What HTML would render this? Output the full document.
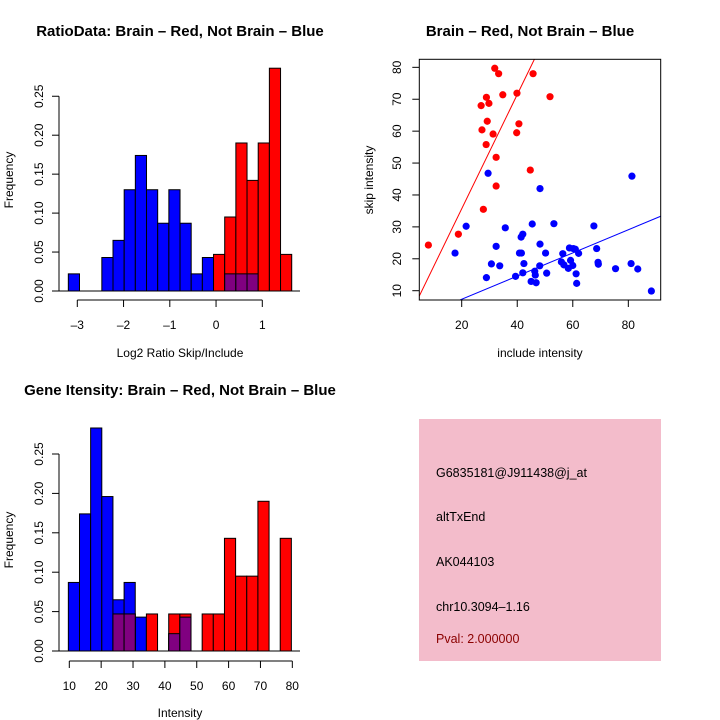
<!DOCTYPE html>
<html><head><meta charset="utf-8"><style>
body{margin:0;background:#fff}
svg{display:block;font-family:"Liberation Sans",sans-serif}
</style></head><body>
<svg id="s" width="720" height="720" viewBox="0 0 720 720">
<rect width="720" height="720" fill="#fff"/>
<text x="180" y="36" text-anchor="middle" font-size="15" font-weight="bold">RatioData: Brain – Red, Not Brain – Blue</text>
<text x="530" y="36" text-anchor="middle" font-size="15" font-weight="bold">Brain – Red, Not Brain – Blue</text>
<text x="180" y="395" text-anchor="middle" font-size="15" font-weight="bold">Gene Itensity: Brain – Red, Not Brain – Blue</text>
<g id="h1"></g>
<g id="h2"></g>
<g id="sc"></g>
<g>
<rect x="419" y="419" width="242" height="242" fill="#f3bccb"/>
<g font-size="12.5">
<text x="436" y="477">G6835181@J911438@j_at</text>
<text x="436" y="521">altTxEnd</text>
<text x="436" y="566">AK044103</text>
<text x="436" y="611">chr10.3094–1.16</text>
<text x="436" y="643" fill="#8b0000">Pval: 2.000000</text>
</g></g>
</svg>
<script>
// Ratio histogram data
const ratioBlue=[0.022,0,0,0.043,0.065,0.13,0.174,0.13,0.087,0.13,0.087,0.022,0.043,0,0.022,0.022,0.022,0,0,0];
const ratioRed=[0,0,0,0,0,0,0,0,0,0,0,0,0,0.047,0.095,0.19,0.142,0.19,0.286,0.047];
const ratioXTicks=[-3,-2,-1,0,1];
const ratioStart=-3.194, ratioWidth=0.2415;
// Intensity histogram data
const intBlue=[0.087,0.174,0.283,0.196,0.065,0.087,0.043,0,0,0.022,0.043,0,0,0,0,0,0,0,0,0];
const intRed=[0,0,0,0,0.047,0.047,0,0.047,0,0.047,0.047,0,0.047,0.047,0.143,0.095,0.095,0.19,0,0.143];
const intXTicks=[10,20,30,40,50,60,70,80];
const intStart=9.7, intWidth=3.5;
const freqTicks=[0,0.05,0.10,0.15,0.20,0.25];
const freqLabels=["0.00","0.05","0.10","0.15","0.20","0.25"];
// Scatter data
const redX=[8.0,18.8,27.8,28.8,27.3,27.0,28.9,29.2,29.8,31.3,31.9,33.3,32.4,32.4,34.8,39.9,39.8,40.6,44.7,45.7,51.8];
const redY=[24.3,27.7,35.5,55.8,60.4,68.0,70.6,63.1,68.7,59.1,79.7,78.0,51.8,42.8,71.4,71.9,59.5,62.3,47.8,78.0,70.8];
const blueX=[17.6,21.6,29.5,28.9,30.7,32.4,33.7,35.7,39.4,40.8,41.5,41.4,42.0,42.0,42.4,45.0,45.4,46.3,46.5,46.8,48.1,48.2,48.2,50.2,50.6,53.2,55.9,56.4,56.8,58.4,58.8,59.2,60.0,60.2,60.9,61.2,61.4,62.1,67.6,68.6,69.1,69.2,75.4,81.0,81.3,83.4,88.3];
const blueY=[21.8,30.2,46.8,14.1,18.4,23.9,17.8,29.7,14.5,21.8,21.8,26.8,27.7,15.6,18.5,12.9,30.9,16.1,14.9,12.5,17.8,24.6,42.0,21.8,15.5,31.0,19.0,21.6,18.1,17.0,23.4,19.5,17.9,23.2,23.0,15.3,12.3,21.7,30.3,23.2,18.9,18.3,16.9,18.5,45.9,16.8,9.9];
const redSlope=1.79, redIntercept=-0.13, blueSlope=0.363, blueIntercept=0.06;
const scXTicks=[20,40,60,80], scYTicks=[10,20,30,40,50,60,70,80];

const NS="http://www.w3.org/2000/svg";
function mk(p,t,a,txt){const e=document.createElementNS(NS,t);for(const k in a)e.setAttribute(k,a[k]);if(txt!==undefined)e.textContent=txt;p.appendChild(e);return e;}

function hist(g,blue,red,start,width,xTicks,xs,ys,xAxisY,xlabel,ylabelY,xlabelY){
  const n=blue.length;
  for(let i=0;i<n;i++){
    const x0=xs(start+i*width),x1=xs(start+(i+1)*width);
    if(blue[i]>0){const r=mk(g,'rect',{x:x0,y:ys(blue[i]),width:x1-x0,height:ys(0)-ys(blue[i]),fill:'#0000ff',stroke:'#000','stroke-width':1});
      
      }
  }
  for(let i=0;i<n;i++){
    const x0=xs(start+i*width),x1=xs(start+(i+1)*width);
    if(red[i]>0){const r=mk(g,'rect',{x:x0,y:ys(red[i]),width:x1-x0,height:ys(0)-ys(red[i]),fill:'#ff0000',stroke:'#000','stroke-width':1});
      
      }
    const m=Math.min(blue[i],red[i]);
    if(m>0){const r=mk(g,'rect',{x:x0,y:ys(m),width:x1-x0,height:ys(0)-ys(m),fill:'#800080',stroke:'#000','stroke-width':1});
      
      }
  }
  mk(g,'line',{x1:59,x2:300,y1:ys(0),y2:ys(0),stroke:'#000'});
  mk(g,'line',{x1:59,x2:59,y1:ys(0),y2:ys(0.25),stroke:'#000'});
  freqTicks.forEach((v,i)=>{
    mk(g,'line',{x1:52,x2:59,y1:ys(v),y2:ys(v),stroke:'#000'});
    const t=mk(g,'text',{x:43,y:ys(v),'font-size':12,'text-anchor':'middle',transform:`rotate(-90 43 ${ys(v)})`},freqLabels[i]);
    
    
  });
  mk(g,'line',{x1:xs(xTicks[0]),x2:xs(xTicks[xTicks.length-1]),y1:xAxisY,y2:xAxisY,stroke:'#000'});
  xTicks.forEach(v=>{
    mk(g,'line',{x1:xs(v),x2:xs(v),y1:xAxisY,y2:xAxisY+7,stroke:'#000'});
    const t=mk(g,'text',{x:xs(v),y:xAxisY+29,'font-size':12,'text-anchor':'middle'},v<0?'–'+(-v):String(v));
    
    
  });
  const yl=mk(g,'text',{x:13,y:ylabelY,'font-size':12,'text-anchor':'middle',transform:`rotate(-90 13 ${ylabelY})`},'Frequency');
  
  
  const xl=mk(g,'text',{x:180,y:xlabelY,'font-size':12,'text-anchor':'middle'},xlabel);
  
  
}
hist(document.getElementById('h1'),ratioBlue,ratioRed,ratioStart,ratioWidth,ratioXTicks,
  v=>77.3+(v+3)*46.25, v=>291-v*779, 300,'Log2 Ratio Skip/Include',180,357);
hist(document.getElementById('h2'),intBlue,intRed,intStart,intWidth,intXTicks,
  v=>69.3+(v-10)*3.186, v=>651-v*788, 661,'Intensity',540,717);

// scatter
const sc=document.getElementById('sc');
const sx=v=>461.7+(v-20)*2.777, sy=v=>290.7-(v-10)*3.191;
const L=419.3,R=660.7,T=59.3,B=300;
const cp=mk(sc,'clipPath',{id:'cp'});mk(cp,'rect',{x:L,y:T,width:R-L,height:B-T});
const lg=mk(sc,'g',{'clip-path':'url(#cp)'});
const xa=(L-461.7)/2.777+20, xb=(R-461.7)/2.777+20;
const rl=mk(lg,'line',{x1:sx(xa),y1:sy(redSlope*xa+redIntercept),x2:sx(xb),y2:sy(redSlope*xb+redIntercept),stroke:'#ff0000'});


const bl=mk(lg,'line',{x1:sx(xa),y1:sy(blueSlope*xa+blueIntercept),x2:sx(xb),y2:sy(blueSlope*xb+blueIntercept),stroke:'#0000ff'});


redX.forEach((x,i)=>{const c=mk(sc,'circle',{cx:sx(x),cy:sy(redY[i]),r:3.6,fill:'#ff0000'});
  
  });
blueX.forEach((x,i)=>{const c=mk(sc,'circle',{cx:sx(x),cy:sy(blueY[i]),r:3.6,fill:'#0000ff'});
  
  });
mk(sc,'rect',{x:L,y:T,width:R-L,height:B-T,fill:'none',stroke:'#000'});
scXTicks.forEach(v=>{mk(sc,'line',{x1:sx(v),x2:sx(v),y1:B,y2:B+7,stroke:'#000'});
  const t=mk(sc,'text',{x:sx(v),y:B+29,'font-size':12,'text-anchor':'middle'},String(v));
  
  });
scYTicks.forEach(v=>{mk(sc,'line',{x1:L-7,x2:L,y1:sy(v),y2:sy(v),stroke:'#000'});
  const t=mk(sc,'text',{x:401,y:sy(v),'font-size':12,'text-anchor':'middle',transform:`rotate(-90 401 ${sy(v)})`},String(v));
  
  });
const sxl=mk(sc,'text',{x:540,y:357,'font-size':12,'text-anchor':'middle'},'include intensity');


const syl=mk(sc,'text',{x:373,y:180,'font-size':12,'text-anchor':'middle',transform:'rotate(-90 373 180)'},'skip intensity');


</script>
</body></html>
